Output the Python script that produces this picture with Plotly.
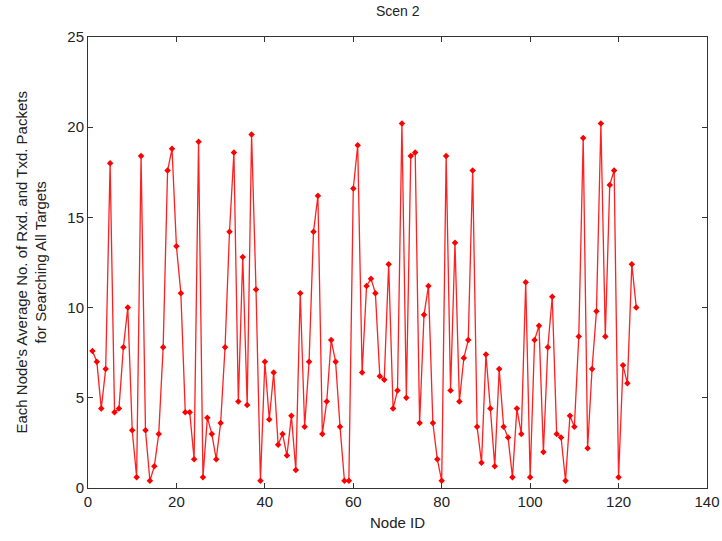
import plotly.graph_objects as go

node_id = list(range(1, 125))
avg_packets = [
    7.6, 7.0, 4.4, 6.6, 18.0, 4.2, 4.4, 7.8, 10.0, 3.2,
    0.6, 18.4, 3.2, 0.4, 1.2, 3.0, 7.8, 17.6, 18.8, 13.4,
    10.8, 4.2, 4.2, 1.6, 19.2, 0.6, 3.9, 3.0, 1.6, 3.6,
    7.8, 14.2, 18.6, 4.8, 12.8, 4.6, 19.6, 11.0, 0.4, 7.0,
    3.8, 6.4, 2.4, 3.0, 1.8, 4.0, 1.0, 10.8, 3.4, 7.0,
    14.2, 16.2, 3.0, 4.8, 8.2, 7.0, 3.4, 0.4, 0.4, 16.6,
    19.0, 6.4, 11.2, 11.6, 10.8, 6.2, 6.0, 12.4, 4.4, 5.4,
    20.2, 5.0, 18.4, 18.6, 3.6, 9.6, 11.2, 3.6, 1.6, 0.4,
    18.4, 5.4, 13.6, 4.8, 7.2, 8.2, 17.6, 3.4, 1.4, 7.4,
    4.4, 1.2, 6.6, 3.4, 2.8, 0.6, 4.4, 3.0, 11.4, 0.6,
    8.2, 9.0, 2.0, 7.8, 10.6, 3.0, 2.8, 0.4, 4.0, 3.4,
    8.4, 19.4, 2.2, 6.6, 9.8, 20.2, 8.4, 16.8, 17.6, 0.6,
    6.8, 5.8, 12.4, 10.0,
]
x_ticks = [0, 20, 40, 60, 80, 100, 120, 140]
y_ticks = [0, 5, 10, 15, 20, 25]

FONT = "Liberation Sans, Arial"
TXT = "#222222"

fig = go.Figure(go.Scatter(
    x=node_id, y=avg_packets, mode="lines+markers",
    line=dict(color="#ff2020", width=1.3),
    marker=dict(symbol="diamond", size=5, color="#ff0000"),
    showlegend=False,
))

axis_common = dict(
    showline=True, linecolor="#333333", linewidth=1, mirror="ticks",
    ticks="inside", ticklen=5, tickcolor="#333333", showgrid=False,
    zeroline=False, automargin=False,
    tickfont=dict(family=FONT, size=15, color=TXT),
)
fig.update_layout(
    width=722, height=541,
    margin=dict(l=88, r=15, t=37, b=53),
    paper_bgcolor="white", plot_bgcolor="white",
    xaxis=dict(range=[0, 140], tickvals=x_ticks, **axis_common),
    yaxis=dict(range=[0, 25], tickvals=y_ticks, **axis_common),
    annotations=[
        dict(text="Scen 2", x=0.5, y=1.0, xref="paper", yref="paper",
             yanchor="bottom", yshift=16,
             showarrow=False, font=dict(family=FONT, size=14, color=TXT)),
        dict(text="Node ID", x=0.5, y=-0.077, xref="paper", yref="paper",
             xanchor="center", yanchor="middle", showarrow=False,
             font=dict(family=FONT, size=15, color=TXT)),
        dict(text="Each Node's Average No. of Rxd. and Txd. Packets<br>for Searching All Targets",
             x=-0.092, y=0.5, xref="paper", yref="paper", textangle=-90,
             xanchor="center", yanchor="middle", showarrow=False,
             font=dict(family=FONT, size=15, color=TXT)),
    ],
)
fig.write_html("out.html", config={"displayModeBar": False},
               post_script="document.body.style.margin='0';")
